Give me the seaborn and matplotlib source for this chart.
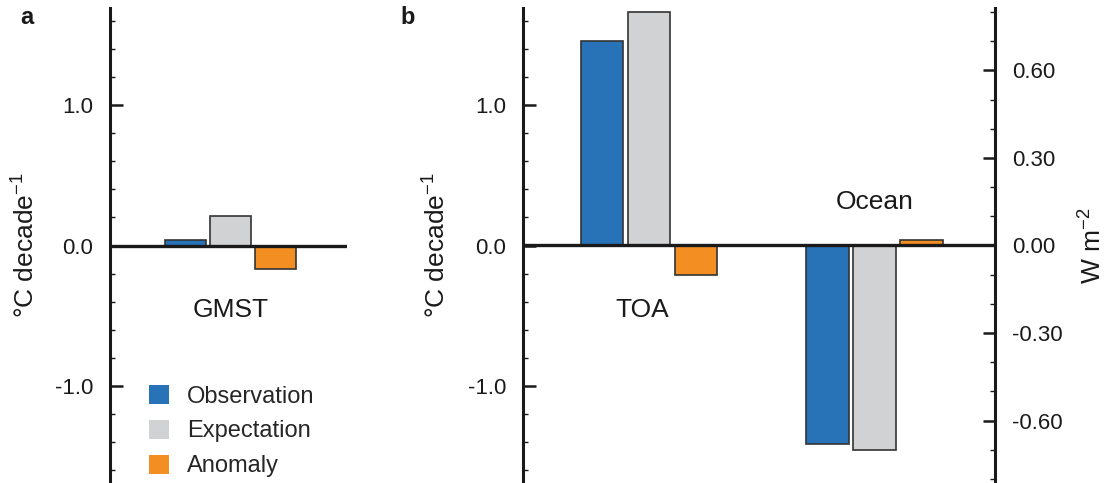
import numpy as np
import pandas as pd
import seaborn as sns
import matplotlib.pyplot as plt
from matplotlib.patches import Patch
from matplotlib.ticker import MultipleLocator, FormatStrFormatter

# ---- data -------------------------------------------------------------
kinds = ["Observation", "Expectation", "Anomaly"]
kind_colors = ["#2872b8", "#d1d2d4", "#f28e22"]

temp_region = ["GMST"]
gmst_values = [0.04, 0.21, -0.17]          # °C decade-1

flux_regions = ["TOA", "Ocean"]
toa_values = [0.70, 0.80, -0.10]           # W m-2
ocean_values = [-0.68, -0.70, 0.02]        # W m-2

df_temp = pd.DataFrame({"region": temp_region * 3, "kind": kinds, "value": gmst_values})
df_flux = pd.DataFrame({
    "region": np.repeat(flux_regions, 3),
    "kind": kinds * 2,
    "value": toa_values + ocean_values,
})

# ---- style ------------------------------------------------------------
sns.set_theme(style="ticks")
plt.rcParams["font.family"] = ["Liberation Sans", "DejaVu Sans"]
plt.rcParams["mathtext.fontset"] = "custom"
plt.rcParams["mathtext.rm"] = "Liberation Sans"
plt.rcParams["mathtext.it"] = "Liberation Sans:italic"
plt.rcParams["mathtext.bf"] = "Liberation Sans:bold"
plt.rcParams["axes.unicode_minus"] = False

INK = "#1a1a1a"
EDGE = "#333333"
W, H = 1107, 483
TEMP_LIM = 1.69
FLUX_LIM = 0.814
TEMP_LABEL = "°C decade$^{-1}$"
FLUX_LABEL = "W m$^{-2}$"

fig = plt.figure(figsize=(W / 100, H / 100), dpi=100)
ax_a = fig.add_axes([110 / W, 0, 237 / W, 475 / H])
ax_b = fig.add_axes([523 / W, 0, 472 / W, 475 / H])
ax_r = ax_b.twinx()

bar_kw = dict(x="region", y="value", hue="kind", hue_order=kinds, palette=kind_colors,
              saturation=1, width=0.625, gap=0.1, edgecolor=EDGE, linewidth=1.2,
              errorbar=None, legend=False)

sns.barplot(data=df_temp, ax=ax_a, **bar_kw)
sns.barplot(data=df_flux, ax=ax_r, **bar_kw)


def style_axis(ax, side, major, minor, fmt):
    ax.yaxis.set_major_locator(MultipleLocator(major))
    ax.yaxis.set_minor_locator(MultipleLocator(minor))
    ax.yaxis.set_major_formatter(FormatStrFormatter(fmt))
    ax.tick_params(axis="y", which="major", direction="in", length=9, width=1.8,
                   pad=12, labelsize=16, color=INK, labelcolor=INK)
    ax.tick_params(axis="y", which="minor", direction="in", length=3.5, width=1.0, color=INK)
    for s in ["top", "bottom", "left", "right"]:
        ax.spines[s].set_visible(s == side)
    ax.spines[side].set_linewidth(2.2)
    ax.spines[side].set_color(INK)
    ax.set_facecolor("none")
    ax.set_xticks([])
    ax.set_xlabel("")
    ax.set_ylabel("")


# panel a
ax_a.set_xlim(-0.558, 0.539)
ax_a.set_ylim(-TEMP_LIM, TEMP_LIM)
style_axis(ax_a, "left", 1.0, 0.2, "%.1f")
ax_a.text((26 - 110) / 237, 0.5, TEMP_LABEL, transform=ax_a.transAxes, rotation=90,
          ha="center", va="center", fontsize=19, color=INK)
ax_a.axhline(0, color=INK, lw=2.4, zorder=5)
ax_a.text(0, -0.46, "GMST", ha="center", va="center", fontsize=19, color=INK)

# panel b, left (temperature scale) and right (flux scale)
ax_b.set_ylim(-TEMP_LIM, TEMP_LIM)
style_axis(ax_b, "left", 1.0, 0.2, "%.1f")
ax_b.text((437 - 523) / 472, 0.5, TEMP_LABEL, transform=ax_b.transAxes, rotation=90,
          ha="center", va="center", fontsize=19, color=INK)

ax_r.set_xlim(-0.559, 1.534)
ax_r.set_ylim(-FLUX_LIM, FLUX_LIM)
style_axis(ax_r, "right", 0.3, 0.1, "%.2f")
ax_r.text((1093 - 523) / 472, 0.5, FLUX_LABEL, transform=ax_r.transAxes, rotation=90,
          ha="center", va="center", fontsize=19, color=INK)
ax_r.axhline(0, color=INK, lw=2.4, zorder=5)
ax_r.text(-0.03, -0.221, "TOA", ha="center", va="center", fontsize=19, color=INK)
ax_r.text(1.0, 0.149, "Ocean", ha="center", va="center", fontsize=19, color=INK)

# legend
handles = [Patch(facecolor=c, edgecolor="none") for c in kind_colors]
ax_a.legend(handles, kinds, loc="upper left", bbox_to_anchor=(149 / W, 1 - 385 / H),
            bbox_transform=fig.transFigure, frameon=False, fontsize=17,
            handlelength=0.85, handleheight=0.85, handletextpad=0.75,
            labelspacing=0.52, borderaxespad=0, borderpad=0)

# panel letters
fig.text(20 / W, 1 - 18 / H, "a", fontsize=17, fontweight="bold", va="center", color=INK)
fig.text(400 / W, 1 - 18 / H, "b", fontsize=17, fontweight="bold", va="center", color=INK)

fig.savefig("out.png", dpi=100)
